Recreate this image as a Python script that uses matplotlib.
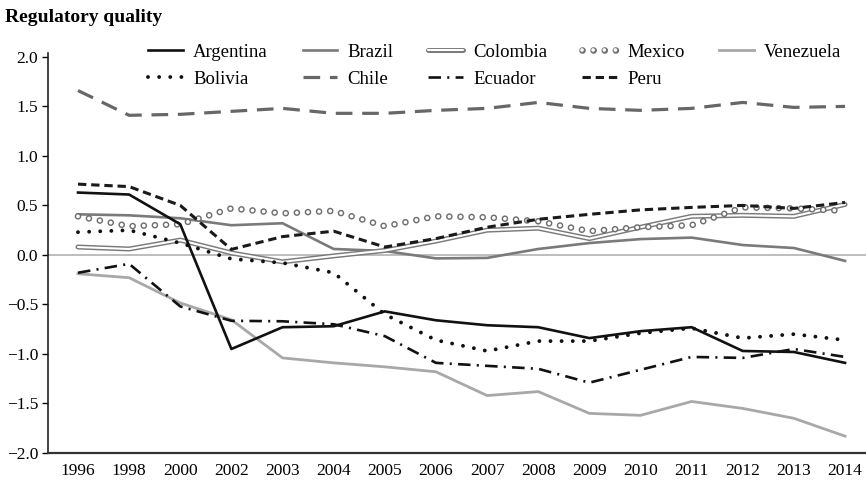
import numpy as np
import matplotlib
matplotlib.use("Agg")
import matplotlib.pyplot as plt

plt.rcParams["font.family"] = ["Liberation Serif", "DejaVu Serif"]
plt.rcParams["lines.scale_dashes"] = False
plt.rcParams["axes.unicode_minus"] = True

years = ["1996", "1998", "2000", "2002", "2003", "2004", "2005", "2006",
         "2007", "2008", "2009", "2010", "2011", "2012", "2013", "2014"]

argentina = [0.63, 0.61, 0.31, -0.95, -0.73, -0.72, -0.57, -0.66,
             -0.71, -0.73, -0.84, -0.77, -0.73, -0.97, -0.98, -1.09]
bolivia = [0.23, 0.25, 0.12, -0.04, -0.08, -0.18, -0.60, -0.86,
           -0.97, -0.87, -0.87, -0.79, -0.74, -0.84, -0.80, -0.86]
brazil = [0.41, 0.40, 0.37, 0.30, 0.32, 0.06, 0.04, -0.035,
          -0.03, 0.06, 0.12, 0.16, 0.175, 0.10, 0.07, -0.06]
chile = [1.66, 1.41, 1.42, 1.45, 1.48, 1.43, 1.43, 1.46,
         1.48, 1.54, 1.48, 1.46, 1.48, 1.54, 1.49, 1.50]
colombia = [0.08, 0.06, 0.15, 0.02, -0.07, -0.01, 0.045, 0.14,
            0.25, 0.27, 0.165, 0.28, 0.39, 0.40, 0.39, 0.51]
ecuador = [-0.18, -0.09, -0.52, -0.665, -0.67, -0.70, -0.82, -1.09,
           -1.12, -1.15, -1.29, -1.16, -1.03, -1.04, -0.95, -1.03]
mexico = [0.39, 0.29, 0.31, 0.47, 0.42, 0.445, 0.29, 0.39,
          0.38, 0.34, 0.24, 0.28, 0.30, 0.48, 0.47, 0.445]
peru = [0.715, 0.69, 0.50, 0.056, 0.185, 0.24, 0.08, 0.165,
        0.28, 0.36, 0.41, 0.455, 0.48, 0.50, 0.47, 0.53]
venezuela = [-0.19, -0.23, -0.485, -0.655, -1.04, -1.09, -1.13, -1.18,
             -1.42, -1.38, -1.60, -1.62, -1.48, -1.55, -1.65, -1.83]

yticks = [-2.0, -1.5, -1.0, -0.5, 0.0, 0.5, 1.0, 1.5, 2.0]

fig = plt.figure(figsize=(8.66, 4.82), dpi=100)
ax = fig.add_axes([0.0554, 0.0602, 0.9446, 0.83])
x = np.arange(len(years))

ax.axhline(0, color="#b8b8b8", lw=1.3, zorder=1)

# Venezuela: light grey solid
h_ven, = ax.plot(x, venezuela, color="#a8a8a8", lw=2.0, solid_joinstyle="round", zorder=2)
# Chile: grey long dashes
h_chi, = ax.plot(x, chile, color="#676767", lw=2.3, dashes=(12, 7), zorder=2)
# Brazil: mid grey solid
h_bra, = ax.plot(x, brazil, color="#7a7a7a", lw=1.9, zorder=2)
# Colombia: double line (grey outline, white core)
h_col_o, = ax.plot(x, colombia, color="#7a7a7a", lw=3.6, zorder=3,
                   solid_capstyle="round", solid_joinstyle="round")
h_col_i, = ax.plot(x, colombia, color="white", lw=1.5, zorder=3,
                   solid_capstyle="round", solid_joinstyle="round")
# Mexico: ring-shaped dots
ring = (0.01, 8.0)
h_mex_o, = ax.plot(x, mexico, color="#6e6e6e", lw=4.8, dashes=ring,
                   dash_capstyle="round", zorder=4)
h_mex_i, = ax.plot(x, mexico, color="white", lw=2.7, dashes=ring,
                   dash_capstyle="round", zorder=4)
# Bolivia: black dots
h_bol, = ax.plot(x, bolivia, color="#111111", lw=2.8, dashes=(0.01, 8.0),
                 dash_capstyle="round", zorder=5)
# Peru: black short dashes
h_per, = ax.plot(x, peru, color="#1a1a1a", lw=2.2, dashes=(6, 3.5), zorder=5)
# Ecuador: black dash-dot
h_ecu, = ax.plot(x, ecuador, color="#111111", lw=1.9,
                 dashes=(9, 4.5, 1.5, 4.5), zorder=5)
# Argentina: black solid
h_arg, = ax.plot(x, argentina, color="#111111", lw=1.9, zorder=6)

ax.set_xlim(-0.587, 15.41)
ax.set_ylim(-2.0, 2.04)
ax.set_xticks(x)
ax.set_xticklabels(years)
ax.set_yticks(yticks)
ax.set_yticklabels([f"{v:.1f}".replace("-", "\u2212") for v in yticks])
ax.tick_params(axis="x", length=0, pad=7, labelsize=12.5)
ax.tick_params(axis="y", length=4, width=1, pad=3, labelsize=12.5, direction="out")

for s in ("top", "right"):
    ax.spines[s].set_visible(False)
ax.spines["left"].set_linewidth(1.2)
ax.spines["left"].set_color("#222222")
ax.spines["bottom"].set_linewidth(1.6)
ax.spines["bottom"].set_color("#333333")

handles = [h_arg, h_bol, h_bra, h_chi, (h_col_o, h_col_i), h_ecu,
           (h_mex_o, h_mex_i), h_per, h_ven]
labels = ["Argentina", "Bolivia", "Brazil", "Chile", "Colombia", "Ecuador",
          "Mexico", "Peru", "Venezuela"]
fig.legend(handles, labels, loc="upper left", bbox_to_anchor=(0.171, 0.910),
           ncol=5, frameon=False, fontsize=13.5, handlelength=1.85,
           handletextpad=0.55, columnspacing=1.85, labelspacing=0.55,
           borderpad=0, borderaxespad=0)

fig.text(0.006, 0.982, "Regulatory quality", fontsize=14, fontweight="bold",
         ha="left", va="top")

fig.savefig("out.png", dpi=100)
